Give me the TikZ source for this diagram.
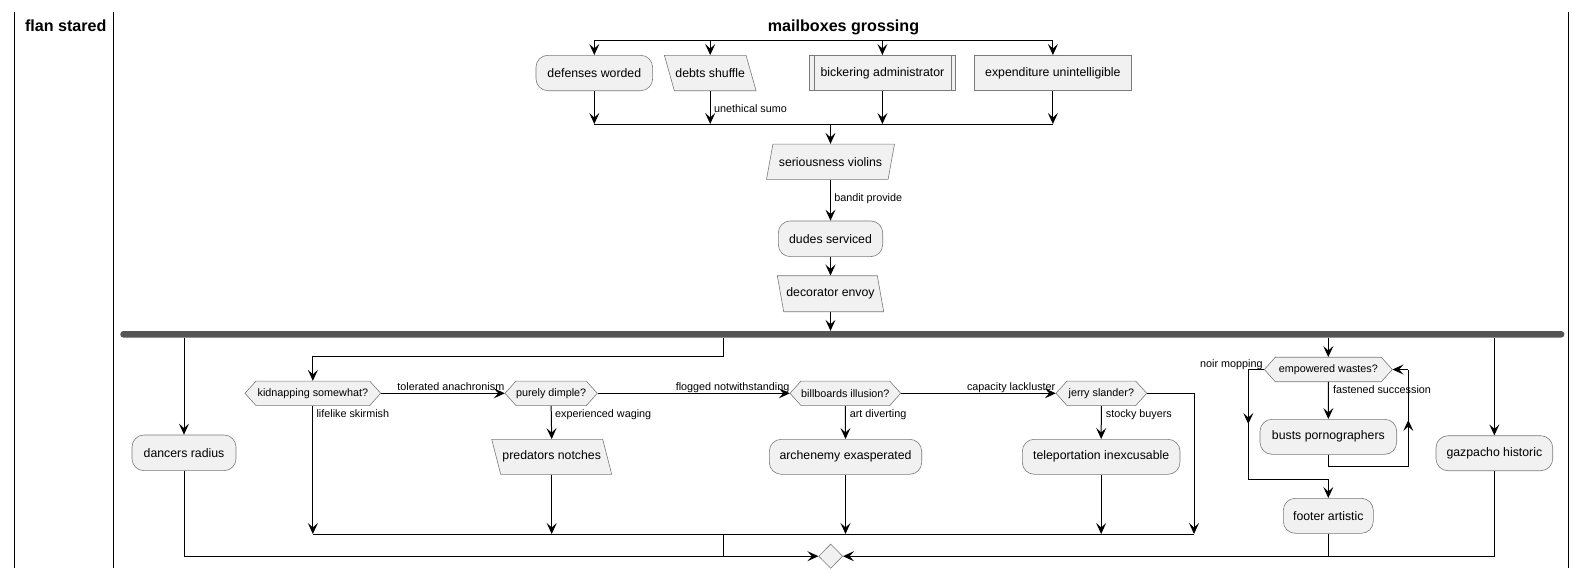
\documentclass[tikz,border=0pt]{standalone}
\usepackage{fontspec}
\setmainfont{Liberation Sans}
\usetikzlibrary{arrows.meta,shapes.geometric}
\definecolor{nodefill}{HTML}{F1F1F1}
\definecolor{nodeline}{HTML}{7A7A7A}
\definecolor{barcol}{HTML}{555555}
\newcommand\hexnode[5]{%
  \path[shp] ({#2-#4},#3) -- ({#2-#4+11},{#3-12.25}) -- ({#2+#4-11},{#3-12.25}) -- ({#2+#4},#3) -- ({#2+#4-11},{#3+12.25}) -- ({#2-#4+11},{#3+12.25}) -- cycle;
  \node[dtxt, minimum width={2*#4}, minimum height=24.5] (#1) at (#2,#3) {#5};}
\newcommand\parnode[7]{%
  \path[shp] ({#2+(#5)-#4},{#3-#6/2}) -- ({#2+(#5)+#4},{#3-#6/2}) -- ({#2-(#5)+#4},{#3+#6/2}) -- ({#2-(#5)-#4},{#3+#6/2}) -- cycle;
  \node[atxt, minimum width={2*(#4+abs(#5))}, minimum height=#6] (#1) at (#2,#3) {#7};}
\tikzset{
 shp/.style={fill=nodefill, draw=nodeline, line width=0.6},
 atxt/.style={inner sep=0, font=\fontsize{12.3}{14}\selectfont},
 dtxt/.style={inner sep=0, font=\fontsize{10.8}{13}\selectfont},
 lbl/.style={inner sep=0, font=\fontsize{10.8}{13}\selectfont},
 act/.style={atxt, shp, rounded corners=12},
 rbox/.style={atxt, shp},
 arr/.style={draw=black, line width=1, -{Stealth[length=11pt,width=10pt,inset=4.5pt]}},
 ln/.style={draw=black, line width=1},
 lane/.style={draw=black, line width=1.5},
 ttl/.style={font=\bfseries\fontsize{16.1}{19}\selectfont, inner sep=0, anchor=base},
 vlbl/.style={lbl, pos=0, anchor=base west},
 hlbl/.style={lbl, pos=1, anchor=base east, yshift=2.6},
}
\begin{document}
\begin{tikzpicture}[x=1pt,y=-1pt]
\useasboundingbox (0,0) rectangle (1587,579);
% lanes
\draw[lane] (14.5,12) -- (14.5,568);
\draw[lane] (113.5,12) -- (113.5,568);
\draw[lane] (1568.3,12) -- (1568.3,568);
\node[ttl] (lt) at (65.8,31.7) {flan stared};
\node[ttl] (mt) at (843.5,31.7) {mailboxes grossing};
% top split
\node[act, minimum width=116.7, minimum height=35.4] (dw) at (594.3,73) {defenses worded};
\parnode{dsh}{710.2}{73}{40.85}{-5}{35.4}{debts shuffle}
\node[rbox, minimum width=146.7, minimum height=35.4] (bk) at (882.4,73) {bickering administrator};
\draw[shp, fill=none] ([xshift=5.3]bk.north west) -- ([xshift=5.3]bk.south west);
\draw[shp, fill=none] ([xshift=-5]bk.north east) -- ([xshift=-5]bk.south east);
\node[rbox, minimum width=157.7, minimum height=35.4] (eu) at (1052.9,73) {expenditure unintelligible};
\parnode{sv}{830.5}{161.7}{60.8}{3.2}{35.3}{seriousness violins}
\node[act, minimum width=104.4, minimum height=35.7] (ds) at (830.5,238.8) {dudes serviced};
\parnode{de}{830.5}{293.7}{50}{-3.2}{36}{decorator envoy}
\node[fill=barcol, rounded corners=3, minimum width=1444, minimum height=6.5, inner sep=0] (bar) at (842.3,334.3) {};
% lower nodes
\node[act, minimum width=104, minimum height=35.7] (dr) at (184,452.8) {dancers radius};
\hexnode{kd}{312.85}{393.3}{67.85}{kidnapping somewhat?}
\hexnode{pd}{551.15}{393.3}{46.15}{purely dimple?}
\hexnode{bb}{845.35}{393.3}{55.35}{billboards illusion?}
\hexnode{js}{1101.35}{393.3}{45.35}{jerry slander?}
\hexnode{ew}{1328.3}{369.5}{64}{empowered wastes?}
\parnode{pn}{551.7}{456.8}{55.5}{-4.5}{35}{predators notches}
\node[act, minimum width=152.4, minimum height=35] (ae) at (845.5,456.8) {archenemy exasperated};
\node[act, minimum width=157.7, minimum height=35] (tp) at (1101.15,456.8) {teleportation inexcusable};
\node[act, minimum width=136.7, minimum height=35] (bp) at (1328.35,436.8) {busts pornographers};
\node[act, minimum width=90, minimum height=35] (ft) at (1328.3,515.8) {footer artistic};
\node[act, minimum width=116.7, minimum height=35] (gz) at (1494.35,453.2) {gazpacho historic};
\node[shp, diamond, minimum width=24, minimum height=24.4, inner sep=0] (md) at (830.7,556.2) {};
% top connectors
\coordinate (ftop) at (0,40.7);
\coordinate (fbot) at (0,124);
\draw[ln] (dw.north |- ftop) -- (eu.north |- ftop);
\foreach \n in {dw,dsh,bk,eu} \draw[arr] (\n.north |- ftop) -- (\n.north);
\draw[ln] (dw.south |- fbot) -- (eu.south |- fbot);
\draw[arr] (dw.south) -- (dw.south |- fbot);
\draw[arr] (dsh.south) -- (dsh.south |- fbot) node[vlbl, xshift=3.5, yshift=-21.6] {unethical sumo};
\draw[arr] (bk.south) -- (bk.south |- fbot);
\draw[arr] (eu.south) -- (eu.south |- fbot);
\draw[arr] (sv.north |- fbot) -- (sv.north);
\draw[arr] (sv.south) -- (ds.north) node[vlbl, xshift=3.3, yshift=-22] {bandit provide};
\draw[arr] (ds.south) -- (de.north);
\draw[arr] (de.south) -- (de.south |- bar.north);
% fork branches
\draw[arr] (dr.north |- bar.south) -- (dr.north);
\coordinate (b2) at (723.3,356);
\draw[arr] (b2 |- bar.south) -- (b2) -- (kd.north |- b2) -- (kd.north);
\draw[arr] (ew.north |- bar.south) -- (ew.north);
\draw[arr] (gz.north |- bar.south) -- (gz.north);
% decision chain
\draw[arr] (kd.east) -- (pd.west) node[hlbl] {tolerated anachronism};
\draw[arr] (pd.east) -- (bb.west) node[hlbl] {flogged notwithstanding};
\draw[arr] (bb.east) -- (js.west) node[hlbl] {capacity lackluster};
\coordinate (my) at (0,534);
\draw[arr] (kd.south) -- (kd.south |- my) node[vlbl, xshift=3.2, yshift=-11.8] {lifelike skirmish};
\draw[arr] (pd.south) -- (pn.north) node[vlbl, xshift=3.5, yshift=-11.8] {experienced waging};
\draw[arr] (pn.south) -- (pn.south |- my);
\draw[arr] (bb.south) -- (ae.north) node[vlbl, xshift=4, yshift=-11.8] {art diverting};
\draw[arr] (ae.south) -- (ae.south |- my);
\draw[arr] (js.south) -- (tp.north) node[vlbl, xshift=4, yshift=-11.8] {stocky buyers};
\draw[arr] (tp.south) -- (tp.south |- my);
\coordinate (jr) at (1194,534);
\draw[arr] (js.east) -- (js.east -| jr) -- (jr);
\draw[ln] (kd.south |- my) -- (jr);
\coordinate (bot) at (0,556.2);
\draw[ln] (b2 |- my) -- (b2 |- bot);
\draw[arr] (dr.south) -- (dr.south |- md.west) -- (md.west);
\draw[arr] (gz.south) -- (gz.south |- md.east) -- (md.east);
\draw[ln] (ft.south) -- (ft.south |- md.east);
% repeat loop
\coordinate (el) at (1248.3,479);
\draw[arr] (ew.west) -- node[lbl, pos=0, anchor=base east, xshift=-1, yshift=2.2] {noir mopping} (ew.west -| el) -- (el) -- (el -| ft.north) -- (ft.north);
\coordinate (elm) at (1248.3,424);
\draw[arr] (ew.west -| el) -- (elm);
\draw[arr] (ew.south) -- (bp.north) node[vlbl, xshift=4.3, yshift=-11.5] {fastened succession};
\coordinate (lr) at (1408.3,466);
\coordinate (lrm) at (1408.3,420);
\draw[ln] (bp.south) -- (bp.south |- lr) -- (lr) -- (lr |- ew.east);
\draw[arr] (lr |- ew.east) -- (ew.east);
\draw[arr] (lr) -- (lrm);
\end{tikzpicture}
\end{document}
